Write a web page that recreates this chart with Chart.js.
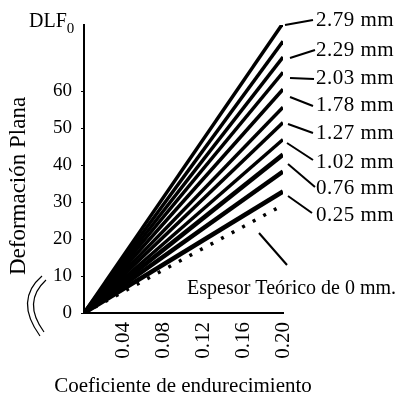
<!DOCTYPE html>
<html><head><meta charset="utf-8">
<script src="https://cdn.jsdelivr.net/npm/chart.js@4.4.1/dist/chart.umd.min.js"></script>
<style>html,body{margin:0;padding:0;background:#fff}#wrap{width:407px;height:400px;position:relative}</style>
</head><body><div id="wrap"><canvas id="c" width="407" height="400"></canvas></div>
<script>
// ---- data ----
const xValues = [0, 0.20];
const thicknessLabels = ['2.79 mm','2.54 mm','2.29 mm','2.03 mm','1.78 mm','1.52 mm','1.27 mm','1.02 mm','0.76 mm','0.51 mm','0.25 mm'];
const endValues = [78.5, 73.6, 69.3, 65.2, 60.6, 55.7, 51.6, 47.0, 42.9, 38.3, 32.9];
const theoreticalX = [0, 0.195];
const theoreticalY = [0, 28.5];
const xTicks = [0.04, 0.08, 0.12, 0.16, 0.20];
const xTickLabels = ['0.04','0.08','0.12','0.16','0.20'];
const yTicks = [0, 10, 20, 30, 40, 50, 60];
const yTickLabels = ['0','10','20','30','40','50','60'];
const shownLabels = ['2.79 mm','2.29 mm','2.03 mm','1.78 mm','1.27 mm','1.02 mm','0.76 mm','0.25 mm'];
const annotationText = 'Espesor Teórico de 0 mm.';
const xTitle = 'Coeficiente de endurecimiento';
const yTitle = 'Deformación Plana';
const yHead = 'DLF';
const yHeadSub = '0';

const FONT = '"Liberation Serif", "DejaVu Serif", serif';

const datasets = endValues.map((v, i) => ({
  label: thicknessLabels[i],
  data: [{x: xValues[0], y: 0}, {x: xValues[1], y: v}],
  borderColor: '#000', borderWidth: i >= 8 ? 4.5 : 3.5, pointRadius: 0, fill: false
}));
datasets.push({
  label: annotationText,
  data: theoreticalX.map((x, i) => ({x, y: theoreticalY[i]})),
  borderColor: '#000', borderWidth: 3.5, borderDash: [3, 9], pointRadius: 0, fill: false
});

const textPlugin = {
  id: 'texts',
  afterDraw(chart) {
    const ctx = chart.ctx;
    ctx.save();
    ctx.fillStyle = '#000';
    ctx.strokeStyle = '#000';
    // series labels with pointers
    const labelY = [20, 50, 78, 105, 133, 162, 188, 215];
    const ptr = [[285,25,313,20],[290,58,315,50],[290,78,314,79],[290,97,313,106],[288,124,313,133],[287,143,313,160],[288,164,315,187],[288,196,312,213]];
    ctx.font = '21px ' + FONT;
    ctx.textBaseline = 'middle';
    ctx.textAlign = 'left';
    ctx.lineWidth = 2;
    if ('letterSpacing' in ctx) ctx.letterSpacing = '0.5px';
    shownLabels.forEach((t, i) => {
      const p = ptr[i];
      ctx.beginPath(); ctx.moveTo(p[0], p[1]); ctx.lineTo(p[2], p[3]); ctx.stroke();
      ctx.fillText(t, 316, labelY[i]);
    });
    if ('letterSpacing' in ctx) ctx.letterSpacing = '0px';
    // annotation
    ctx.beginPath(); ctx.moveTo(259, 233); ctx.lineTo(287, 265); ctx.stroke();
    ctx.font = '20px ' + FONT;
    ctx.fillText(annotationText, 187, 289);
    // x title
    ctx.textAlign = 'center';
    ctx.font = '21px ' + FONT;
    ctx.fillText(xTitle, 183, 386);
    // y title
    ctx.save();
    ctx.translate(19, 186);
    ctx.rotate(-Math.PI / 2);
    ctx.font = '23px ' + FONT;
    ctx.fillText(yTitle, 0, 0);
    ctx.restore();
    // y head
    ctx.textAlign = 'left';
    ctx.textBaseline = 'alphabetic';
    ctx.font = '20px ' + FONT;
    ctx.fillText(yHead, 29, 27);
    const w = ctx.measureText(yHead).width;
    ctx.font = '15px ' + FONT;
    ctx.fillText(yHeadSub, 29 + w, 33);
    // decorative curve lower-left
    ctx.lineWidth = 1.2;
    ctx.beginPath(); ctx.moveTo(42, 276); ctx.quadraticCurveTo(14, 300, 40, 336); ctx.stroke();
    ctx.beginPath(); ctx.moveTo(46, 280); ctx.quadraticCurveTo(22, 302, 44, 332); ctx.stroke();
    ctx.restore();
  }
};

new Chart(document.getElementById('c'), {
  type: 'line',
  data: { datasets },
  options: {
    responsive: false, animation: false, devicePixelRatio: 1,
    layout: { padding: { top: 25, right: 124, left: 0, bottom: 0 } },
    plugins: { legend: { display: false }, tooltip: { enabled: false } },
    scales: {
      x: {
        type: 'linear', min: 0, max: 0.20,
        afterBuildTicks: s => { s.ticks = xTicks.map(v => ({value: v})); },
        afterFit: s => { s.height = 87; },
        grid: { display: true, drawOnChartArea: false, tickLength: 0 },
        border: { color: '#000', width: 2 },
        ticks: {
          minRotation: 90, maxRotation: 90, padding: 9, color: '#000',
          font: { family: FONT, size: 21 },
          callback: (v, i) => xTickLabels[i]
        }
      },
      y: {
        type: 'linear', min: 0, max: 78,
        afterBuildTicks: s => { s.ticks = yTicks.map(v => ({value: v})); },
        afterFit: s => { s.width = 84; },
        grid: { display: true, drawOnChartArea: false, tickLength: 3, color: '#000' },
        border: { color: '#000', width: 2 },
        ticks: {
          padding: 9, color: '#000',
          font: { family: FONT, size: 19 },
          callback: (v, i) => yTickLabels[i]
        }
      }
    }
  },
  plugins: [textPlugin]
});
</script></body></html>
